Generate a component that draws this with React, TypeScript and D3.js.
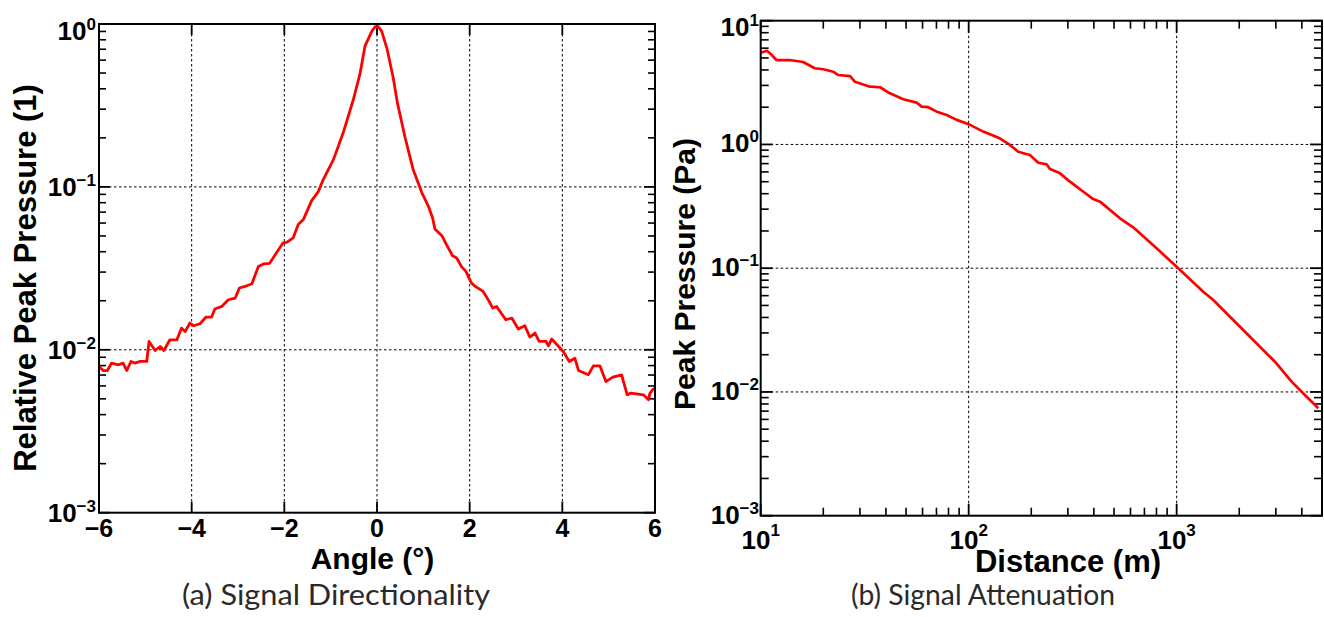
import React from 'react';
import * as d3 from 'd3';

// ---- Data: (a) Signal Directionality ----
const angleDeg = [
  -6.0, -5.91, -5.82, -5.73, -5.58, -5.48, -5.40, -5.31, -5.22, -5.12,
  -4.97, -4.92, -4.79, -4.68, -4.60, -4.47, -4.32, -4.22, -4.14, -4.04,
  -3.96, -3.82, -3.69, -3.57, -3.50, -3.35, -3.21, -3.06, -2.97, -2.85,
  -2.70, -2.56, -2.45, -2.32, -2.03, -1.95, -1.81, -1.70, -1.59, -1.41,
  -1.27, -1.16, -0.94, -0.73, -0.51, -0.37, -0.26, -0.11, -0.04, 0.03,
  0.10, 0.22, 0.35, 0.44, 0.60, 0.78, 0.97, 1.11, 1.20, 1.25,
  1.40, 1.50, 1.63, 1.72, 1.83, 1.92, 2.03, 2.12, 2.29, 2.40,
  2.50, 2.58, 2.78, 2.91, 3.05, 3.19, 3.30, 3.41, 3.50, 3.65,
  3.70, 3.77, 4.02, 4.15, 4.27, 4.35, 4.56, 4.67, 4.81, 4.94,
  5.09, 5.28, 5.40, 5.48, 5.75, 5.86, 5.89, 5.96, 6.0,
];
const relPressure = [
  0.00789, 0.00746, 0.00746, 0.00828, 0.00809, 0.00828, 0.00746, 0.00848, 0.00828, 0.00848,
  0.00848, 0.01125, 0.0099, 0.01048, 0.0099, 0.01152, 0.0115, 0.01359, 0.01296, 0.01459,
  0.01405, 0.01445, 0.01589, 0.01589, 0.01779, 0.01846, 0.02029, 0.02079, 0.02395, 0.02449,
  0.02545, 0.0325, 0.03364, 0.0339, 0.0453, 0.0456, 0.0486, 0.0587, 0.063, 0.0824,
  0.0932, 0.1109, 0.147, 0.2147, 0.344, 0.49, 0.731, 0.904, 0.962, 0.962,
  0.904, 0.698, 0.468, 0.328, 0.2047, 0.1277, 0.0918, 0.076, 0.0645, 0.0552,
  0.0502, 0.0442, 0.0378, 0.0366, 0.0322, 0.0303, 0.02592, 0.02449, 0.02282, 0.02029,
  0.01804, 0.01846, 0.01529, 0.01566, 0.0134, 0.01405, 0.01197, 0.01267, 0.01125, 0.01125,
  0.01058, 0.01164, 0.00976, 0.00848, 0.00889, 0.00746, 0.00702, 0.00797, 0.00797, 0.00638,
  0.00679, 0.00702, 0.00529, 0.00542, 0.00529, 0.00493, 0.0054, 0.00573, 0.0058,
];
const angleTicks = [-6, -4, -2, 0, 2, 4, 6];
const angleGrid = [-4, -2, 0, 2, 4];
const relExps = [0, -1, -2, -3];

// ---- Data: (b) Signal Attenuation ----
const distanceM = [
  10, 10.7, 11.1, 11.9, 13.8, 16.0, 18.2, 20.0, 22.3, 23.6,
  26.9, 28.4, 33.5, 37.5, 41.8, 48.5, 56.2, 59.4, 63.9, 70.2,
  78.4, 87.6, 101.5, 117.5, 141, 158, 173, 197, 216, 237,
  246, 275, 307, 356, 397, 428, 534, 618, 801, 1000,
  1343, 1500, 2090, 2969, 3572, 3990, 4800,
];
const peakPa = [
  5.51, 5.72, 5.45, 4.81, 4.81, 4.64, 4.13, 4.05, 3.87, 3.64,
  3.57, 3.21, 2.93, 2.90, 2.59, 2.32, 2.18, 2.02, 2.00, 1.84,
  1.73, 1.58, 1.44, 1.27, 1.12, 0.99, 0.874, 0.822, 0.712, 0.691,
  0.633, 0.584, 0.5, 0.415, 0.362, 0.345, 0.253, 0.214, 0.1448, 0.1028,
  0.0646, 0.0553, 0.0317, 0.01755, 0.01211, 0.01004, 0.00738,
];
const distExps = [1, 2, 3];
const paExps = [1, 0, -1, -2, -3];

const W = 1324;
const H = 617;
const BOLD = "'Liberation Sans', Arial, Helvetica, sans-serif";
const CAP = "Lato, 'Open Sans', sans-serif";

function minorLog(lo: number, hi: number): number[] {
  const out: number[] = [];
  for (let e = Math.floor(Math.log10(lo)); e <= Math.ceil(Math.log10(hi)); e++) {
    for (let m = 2; m <= 9; m++) {
      const v = m * Math.pow(10, e);
      if (v > lo * 1.0001 && v < hi * 0.9999) out.push(v);
    }
  }
  return out;
}

function Pow({ x, y, exp, anchor, dy }: { x: number; y: number; exp: number; anchor: string; dy: number }) {
  const e = exp < 0 ? '\u2212' + Math.abs(exp) : String(exp);
  return (
    <text x={x} y={y} textAnchor={anchor} fontFamily={BOLD} fontWeight="bold" fontSize={26} fill="#000">
      10
      <tspan dy={dy} fontSize={17}>{e}</tspan>
    </text>
  );
}

function PanelA() {
  const x = d3.scaleLinear().domain([-6, 6]).range([99, 655]);
  const y = d3.scaleLog().domain([1e-3, 1]).range([512.7, 24]);
  const [x0, x1] = x.range();
  const [y0, y1] = y.range();
  const line = d3.line<number>().x((_, i) => x(angleDeg[i])).y((d) => y(d));
  const minors = minorLog(1e-3, 1);
  const majY = relExps.map((e) => Math.pow(10, e));
  return (
    <g>
      {angleGrid.map((t) => (
        <line key={'gx' + t} x1={x(t)} x2={x(t)} y1={y1} y2={y0} stroke="#000" strokeWidth={1} strokeDasharray="2.5,2.5" />
      ))}
      {[0.1, 0.01].map((v) => (
        <line key={'gy' + v} x1={x0} x2={x1} y1={y(v)} y2={y(v)} stroke="#000" strokeWidth={1} strokeDasharray="2.5,2.5" />
      ))}
      {angleTicks.map((t) => (
        <g key={'tx' + t}>
          <line x1={x(t)} x2={x(t)} y1={y0} y2={y0 - 11} stroke="#000" strokeWidth={1.8} />
          <line x1={x(t)} x2={x(t)} y1={y1} y2={y1 + 11} stroke="#000" strokeWidth={1.8} />
        </g>
      ))}
      {majY.map((v) => (
        <g key={'ty' + v}>
          <line x1={x0} x2={x0 + 11} y1={y(v)} y2={y(v)} stroke="#000" strokeWidth={1.8} />
          <line x1={x1} x2={x1 - 11} y1={y(v)} y2={y(v)} stroke="#000" strokeWidth={1.8} />
        </g>
      ))}
      {minors.map((v) => (
        <g key={'my' + v}>
          <line x1={x0} x2={x0 + 7} y1={y(v)} y2={y(v)} stroke="#000" strokeWidth={1.6} />
          <line x1={x1} x2={x1 - 7} y1={y(v)} y2={y(v)} stroke="#000" strokeWidth={1.6} />
        </g>
      ))}
      <path d={line(relPressure) || ''} fill="none" stroke="#ff0000" strokeWidth={2.8} strokeLinejoin="round" />
      <rect x={x0} y={y1} width={x1 - x0} height={y0 - y1} fill="none" stroke="#000" strokeWidth={2} />
      {angleTicks.map((t) => (
        <text key={'lx' + t} x={x(t)} y={537} textAnchor="middle" fontFamily={BOLD} fontWeight="bold" fontSize={25}>
          {t < 0 ? '\u2212' + Math.abs(t) : String(t)}
        </text>
      ))}
      {relExps.map((e) => (
        <Pow key={'ly' + e} x={96} y={Math.max(y(Math.pow(10, e)) + 9, 40)} exp={e} anchor="end" dy={-10} />
      ))}
      <text x={372.5} y={569} textAnchor="middle" fontFamily={BOLD} fontWeight="bold" fontSize={30}>
        Angle (°)
      </text>
      <text transform="translate(36,278) rotate(-90)" textAnchor="middle" fontFamily={BOLD} fontWeight="bold" fontSize={31}>
        Relative Peak Pressure (1)
      </text>
      <text x={336} y={605} textAnchor="middle" fontFamily={CAP} fontSize={28} fill="#2a2a2a" textLength={308} lengthAdjust="spacingAndGlyphs">
        (a) Signal Directionality
      </text>
    </g>
  );
}

function PanelB() {
  const x = d3.scaleLog().domain([10, 5000]).range([760.7, 1322]);
  const y = d3.scaleLog().domain([1e-3, 10]).range([515.7, 20.7]);
  const [x0, x1] = x.range();
  const [y0, y1] = y.range();
  const line = d3.line<number>().x((_, i) => x(distanceM[i])).y((d) => y(d));
  const minX = minorLog(10, 5000);
  const minY = minorLog(1e-3, 10);
  const majX = distExps.map((e) => Math.pow(10, e));
  const majY = paExps.map((e) => Math.pow(10, e));
  return (
    <g>
      {[100, 1000].map((v) => (
        <line key={'gx' + v} x1={x(v)} x2={x(v)} y1={y1} y2={y0} stroke="#000" strokeWidth={1} strokeDasharray="2.5,2.5" />
      ))}
      {[1, 0.1, 0.01].map((v) => (
        <line key={'gy' + v} x1={x0} x2={x1} y1={y(v)} y2={y(v)} stroke="#000" strokeWidth={1} strokeDasharray="2.5,2.5" />
      ))}
      {majX.map((v) => (
        <g key={'tx' + v}>
          <line x1={x(v)} x2={x(v)} y1={y0} y2={y0 - 12} stroke="#000" strokeWidth={1.8} />
          <line x1={x(v)} x2={x(v)} y1={y1} y2={y1 + 12} stroke="#000" strokeWidth={1.8} />
        </g>
      ))}
      {minX.map((v) => (
        <g key={'mx' + v}>
          <line x1={x(v)} x2={x(v)} y1={y0} y2={y0 - 8} stroke="#000" strokeWidth={1.6} />
          <line x1={x(v)} x2={x(v)} y1={y1} y2={y1 + 8} stroke="#000" strokeWidth={1.6} />
        </g>
      ))}
      {majY.map((v) => (
        <g key={'ty' + v}>
          <line x1={x0} x2={x0 + 12} y1={y(v)} y2={y(v)} stroke="#000" strokeWidth={1.8} />
          <line x1={x1} x2={x1 - 12} y1={y(v)} y2={y(v)} stroke="#000" strokeWidth={1.8} />
        </g>
      ))}
      {minY.map((v) => (
        <g key={'my' + v}>
          <line x1={x0} x2={x0 + 8} y1={y(v)} y2={y(v)} stroke="#000" strokeWidth={1.6} />
          <line x1={x1} x2={x1 - 8} y1={y(v)} y2={y(v)} stroke="#000" strokeWidth={1.6} />
        </g>
      ))}
      <path d={line(peakPa) || ''} fill="none" stroke="#ff0000" strokeWidth={2.7} strokeLinejoin="round" />
      <rect x={x0} y={y1} width={x1 - x0} height={y0 - y1} fill="none" stroke="#000" strokeWidth={2} />
      {distExps.map((e) => (
        <Pow key={'lx' + e} x={x(Math.pow(10, e))} y={549} exp={e} anchor="middle" dy={-13} />
      ))}
      {paExps.map((e) => (
        <Pow key={'ly' + e} x={759} y={Math.max(y(Math.pow(10, e)) + 8, 36)} exp={e} anchor="end" dy={-10} />
      ))}
      <text x={1068} y={572} textAnchor="middle" fontFamily={BOLD} fontWeight="bold" fontSize={31}>
        Distance (m)
      </text>
      <text transform="translate(695,274) rotate(-90)" textAnchor="middle" fontFamily={BOLD} fontWeight="bold" fontSize={30}>
        Peak Pressure (Pa)
      </text>
      <text x={983} y={605} textAnchor="middle" fontFamily={CAP} fontSize={28} fill="#2a2a2a" textLength={264} lengthAdjust="spacingAndGlyphs">
        (b) Signal Attenuation
      </text>
    </g>
  );
}

export default function App() {
  return (
    <svg width={W} height={H} viewBox={`0 0 ${W} ${H}`} style={{ position: 'absolute', left: 0, top: 0, display: 'block', background: '#fff' }}>
      <rect x={0} y={0} width={W} height={H} fill="#fff" />
      <PanelA />
      <PanelB />
    </svg>
  );
}
